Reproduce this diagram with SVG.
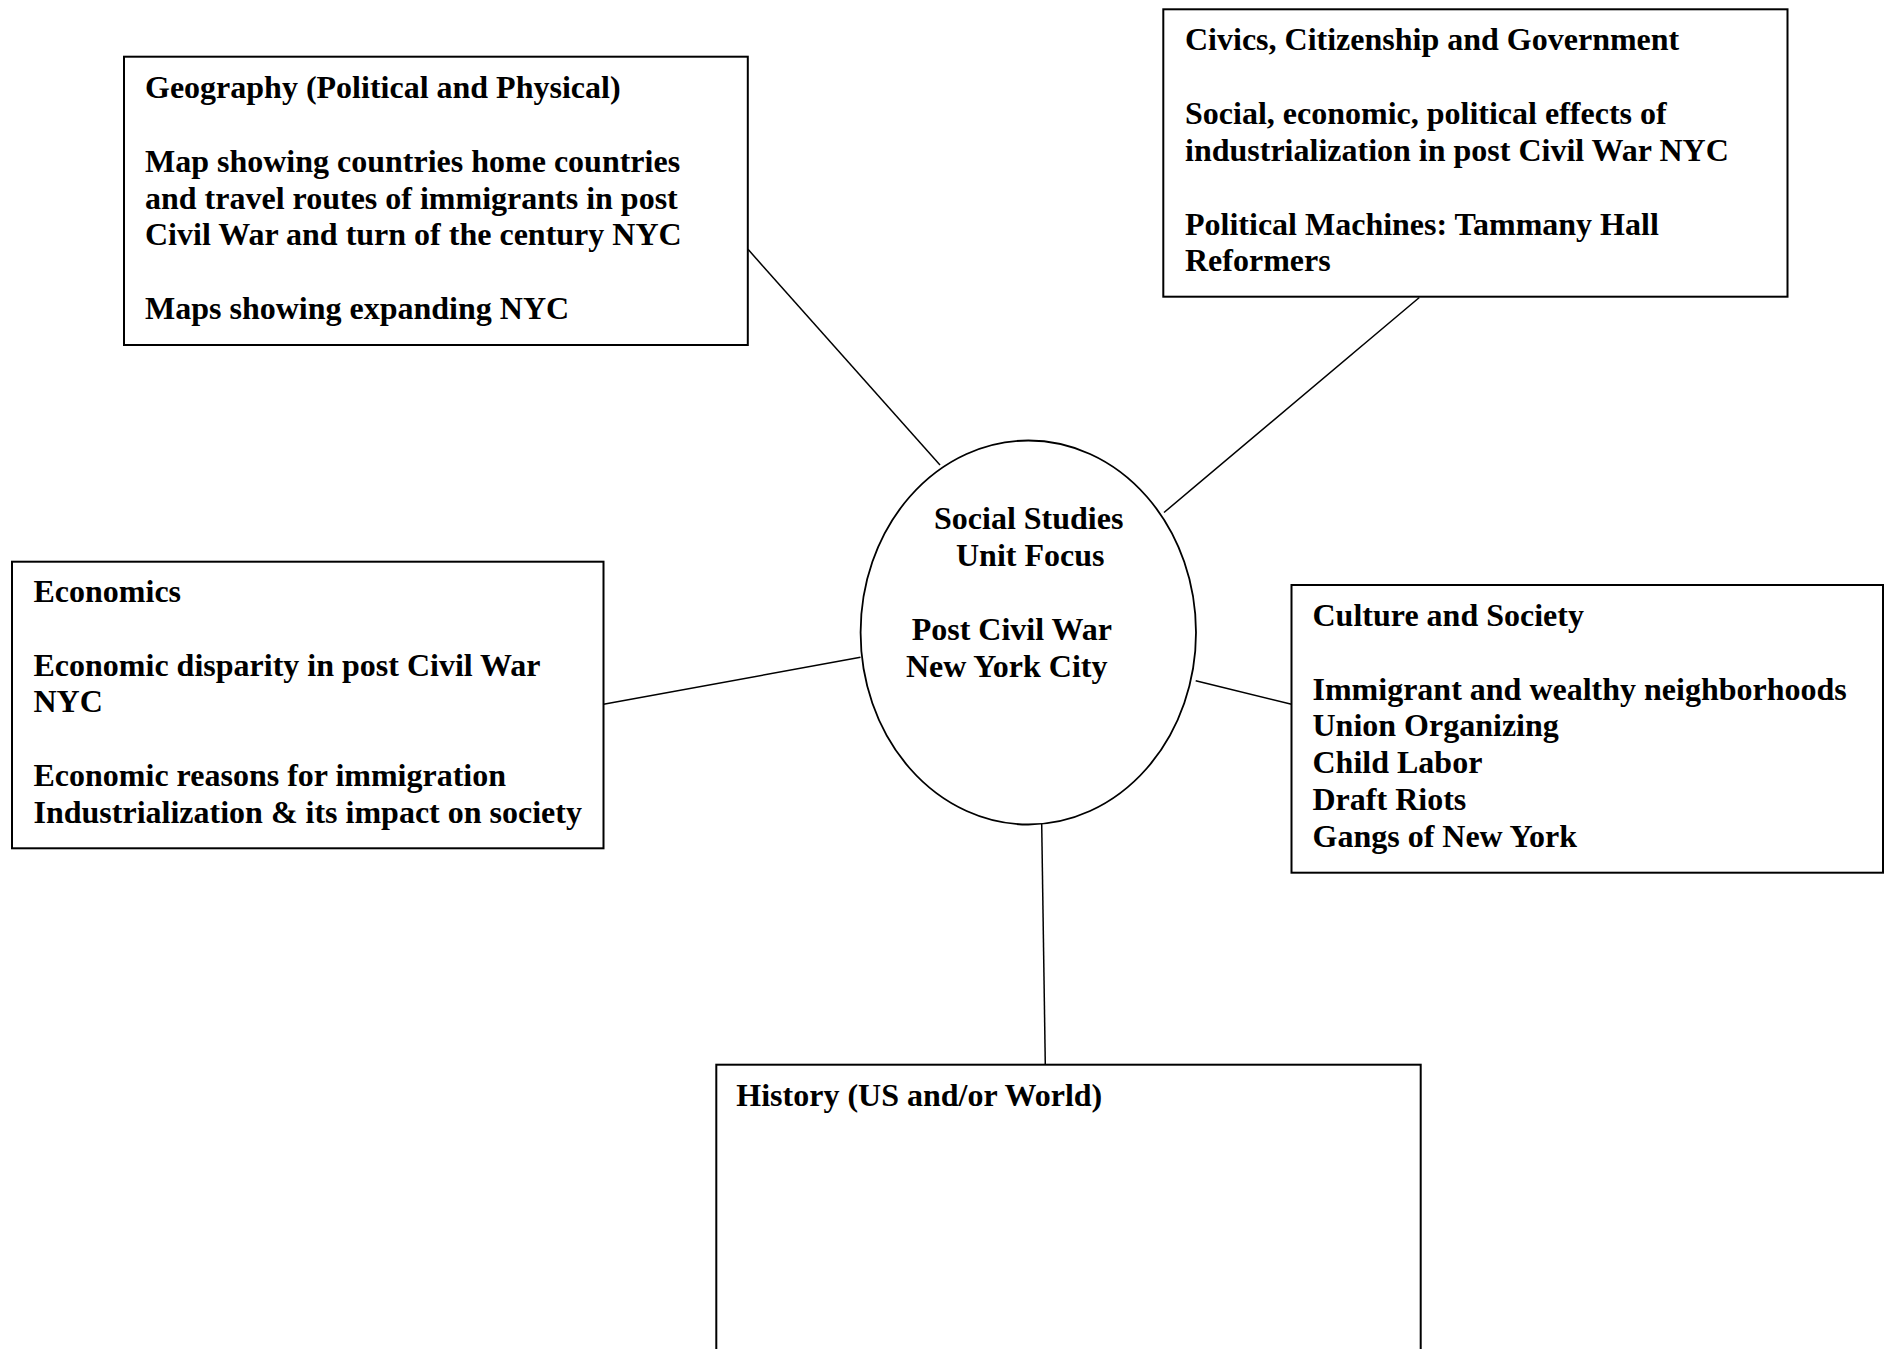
<svg xmlns="http://www.w3.org/2000/svg" width="1886" height="1349" viewBox="0 0 1886 1349">
  <style>
    .box { fill: #ffffff; stroke: #000000; stroke-width: 2; }
    .hub { fill: #ffffff; stroke: #000000; stroke-width: 1.8; }
    .conn { stroke: #000000; stroke-width: 1.5; fill: none; }
    text { font-family: "Liberation Serif", "Times New Roman", serif; font-weight: bold; font-size: 32px; fill: #000000; }
  </style>
  <rect x="0" y="0" width="1886" height="1349" fill="#ffffff"/>

  <g id="connectors">
    <line class="conn" x1="748" y1="249.3" x2="940" y2="465"/>
    <line class="conn" x1="1419.3" y1="297.5" x2="1164" y2="512.5"/>
    <line class="conn" x1="603.5" y1="704.3" x2="860.5" y2="657.3"/>
    <line class="conn" x1="1195.7" y1="680.7" x2="1291.5" y2="704.3"/>
    <line class="conn" x1="1041.7" y1="824" x2="1045.3" y2="1065"/>
  </g>

  <g id="node-geography">
    <rect class="box" x="124" y="56.7" width="623.8" height="288.3"/>
    <text x="145" y="98">Geography (Political and Physical)</text>
    <text x="145" y="171.8">Map showing countries home countries</text>
    <text x="145" y="208.6">and travel routes of immigrants in post</text>
    <text x="145" y="245.4">Civil War and turn of the century NYC</text>
    <text x="145" y="319">Maps showing expanding NYC</text>
  </g>

  <g id="node-civics">
    <rect class="box" x="1163.3" y="9.3" width="624.2" height="287.4"/>
    <text x="1185" y="50.3">Civics, Citizenship and Government</text>
    <text x="1185" y="124.1">Social, economic, political effects of</text>
    <text x="1185" y="160.9">industrialization in post Civil War NYC</text>
    <text x="1185" y="234.5">Political Machines: Tammany Hall</text>
    <text x="1185" y="271.3">Reformers</text>
  </g>

  <g id="node-economics">
    <rect class="box" x="12" y="561.7" width="591.5" height="286.6"/>
    <text x="33.5" y="601.5">Economics</text>
    <text x="33.5" y="675.5">Economic disparity in post Civil War</text>
    <text x="33.5" y="712.3">NYC</text>
    <text x="33.5" y="785.9">Economic reasons for immigration</text>
    <text x="33.5" y="822.7">Industrialization &amp; its impact on society</text>
  </g>

  <g id="node-culture">
    <rect class="box" x="1291.5" y="585" width="591.5" height="287.7"/>
    <text x="1312.5" y="625.5">Culture and Society</text>
    <text x="1312.5" y="699.5">Immigrant and wealthy neighborhoods</text>
    <text x="1312.5" y="736.3">Union Organizing</text>
    <text x="1312.5" y="773.1">Child Labor</text>
    <text x="1312.5" y="809.9">Draft Riots</text>
    <text x="1312.5" y="846.7">Gangs of New York</text>
  </g>

  <g id="node-center">
    <ellipse class="hub" cx="1028.3" cy="632.5" rx="167.7" ry="192"/>
    <text x="934" y="528.5">Social Studies</text>
    <text x="956" y="565.5">Unit Focus</text>
    <text x="911.7" y="640">Post Civil War</text>
    <text x="906" y="677">New York City</text>
  </g>

  <g id="node-history">
    <rect class="box" x="716.3" y="1064.7" width="704.4" height="320"/>
    <text x="736.3" y="1106">History (US and/or World)</text>
  </g>
</svg>
